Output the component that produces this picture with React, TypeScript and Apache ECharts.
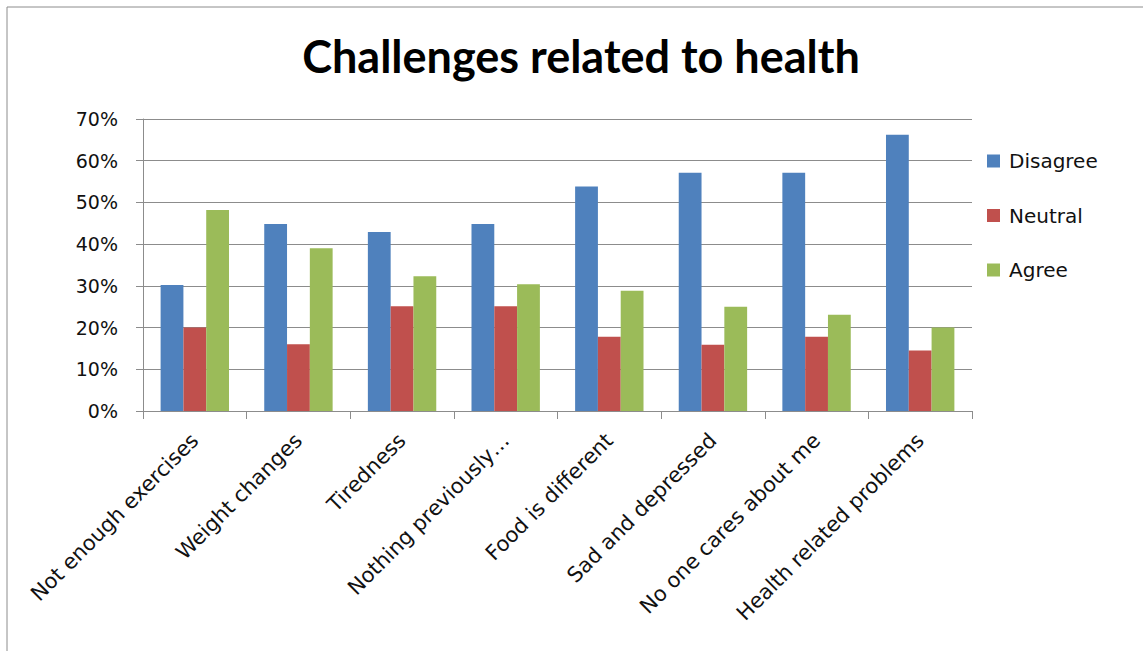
import React, { useEffect, useRef } from "react";
import * as echarts from "echarts";

const categories = [
  "Not enough exercises",
  "Weight changes",
  "Tiredness",
  "Nothing previously…",
  "Food is different",
  "Sad and depressed",
  "No one cares about me",
  "Health related problems",
];
const disagree = [30.2, 44.8, 42.9, 44.8, 53.8, 57.1, 57.1, 66.2];
const neutral = [20, 16, 25.1, 25.1, 17.8, 15.9, 17.8, 14.5];
const agree = [48.2, 39, 32.3, 30.4, 28.8, 25, 23.1, 20];
const seriesNames = ["Disagree", "Neutral", "Agree"];
const colors = ["#4F81BD", "#C0504D", "#9BBB59"];
const titleText = "Challenges related to health";

const FONT = "DejaVu Sans";
const GRAY = "#8c8c8c";

export default function App() {
  const ref = useRef<HTMLDivElement>(null);
  useEffect(() => {
    if (!ref.current) return;
    const chart = echarts.init(ref.current, null, { renderer: "svg" });
    const values = [disagree, neutral, agree];
    chart.setOption({
      animation: false,
      backgroundColor: "#ffffff",
      title: {
        text: titleText,
        left: 576,
        textAlign: "center",
        top: 28,
        textStyle: { fontFamily: "Lato", fontWeight: "bold", fontSize: 45, color: "#000" },
      },
      graphic: [
        {
          type: "rect",
          shape: { x: 7, y: 7, width: 1300, height: 800 },
          style: { fill: "none", stroke: GRAY, lineWidth: 1 },
          silent: true,
        },
      ],
      legend: {
        orient: "vertical",
        left: 987,
        top: 151,
        padding: 0,
        itemWidth: 13,
        itemHeight: 13,
        itemGap: 34.5,
        icon: "rect",
        data: seriesNames,
        textStyle: {
          fontFamily: FONT,
          fontSize: 20,
          color: "#111",
          lineHeight: 20,
          padding: [0, 0, 0, 4],
        },
      },
      grid: { left: 143, right: 171, top: 119, bottom: 240 },
      xAxis: {
        type: "category",
        data: categories,
        axisLine: { lineStyle: { color: GRAY, width: 1 } },
        axisTick: { show: true, length: 8, lineStyle: { color: GRAY } },
        axisLabel: {
          rotate: 45,
          interval: 0,
          margin: 26,
          fontFamily: FONT,
          fontSize: 21,
          color: "#111",
        },
      },
      yAxis: {
        type: "value",
        min: 0,
        max: 70,
        interval: 10,
        axisLine: { show: true, lineStyle: { color: GRAY, width: 1 } },
        axisTick: { show: true, length: 7, lineStyle: { color: GRAY } },
        splitLine: { show: true, lineStyle: { color: GRAY, width: 1 } },
        axisLabel: {
          formatter: "{value}%",
          margin: 25,
          fontFamily: FONT,
          fontSize: 19,
          color: "#111",
        },
      },
      series: seriesNames.map((name, i) => ({
        name,
        type: "bar",
        data: values[i],
        barGap: "0%",
        barCategoryGap: "34%",
        itemStyle: { color: colors[i] },
      })),
    });
    return () => chart.dispose();
  }, []);
  return (
    <div
      ref={ref}
      style={{ position: "absolute", left: 0, top: 0, width: 1143, height: 651 }}
    />
  );
}
